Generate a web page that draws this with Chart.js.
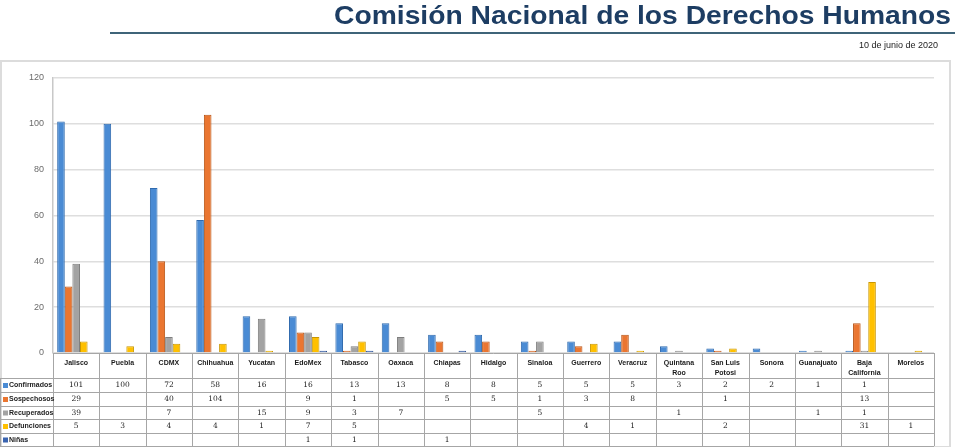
<!DOCTYPE html>
<html>
<head>
<meta charset="utf-8">
<script src="https://cdn.jsdelivr.net/npm/chart.js@4.4.0/dist/chart.umd.min.js"></script>
<style>
  html, body { margin:0; padding:0; background:#fff; }
  body { width:955px; height:447px; position:relative; overflow:hidden; font-family:"Liberation Sans", Arial, sans-serif; }
  #title { position:absolute; right:4px; top:1px; font-size:25px; font-weight:bold; color:#1d3d63; white-space:nowrap; transform:scaleX(1.13); transform-origin:right top; }
  #rule { position:absolute; left:110px; top:32px; width:845px; height:2px; background:#3f6479; }
  #date { position:absolute; right:17px; top:40px; font-size:9px; color:#222; font-family:"Liberation Sans Narrow","Liberation Sans",Arial,sans-serif; white-space:nowrap; }
  #wrap { position:absolute; left:0; top:0; width:955px; height:447px; }
</style>
</head>
<body>
<div id="wrap"><canvas id="c" width="955" height="447"></canvas></div>
<div id="title">Comisión Nacional de los Derechos Humanos</div>
<div id="rule"></div>
<div id="date">10 de junio de 2020</div>
<script>
const categories = ["Jalisco","Puebla","CDMX","Chihuahua","Yucatan","EdoMex","Tabasco","Oaxaca","Chiapas","Hidalgo","Sinaloa","Guerrero","Veracruz","Quintana Roo","San Luis Potosi","Sonora","Guanajuato","Baja California","Morelos"];
const categoryLines = [["Jalisco"],["Puebla"],["CDMX"],["Chihuahua"],["Yucatan"],["EdoMex"],["Tabasco"],["Oaxaca"],["Chiapas"],["Hidalgo"],["Sinaloa"],["Guerrero"],["Veracruz"],["Quintana","Roo"],["San Luis","Potosi"],["Sonora"],["Guanajuato"],["Baja","California"],["Morelos"]];
const confirmados = [101,100,72,58,16,16,13,13,8,8,5,5,5,3,2,2,1,1,null];
const sospechosos = [29,null,40,104,null,9,1,null,5,5,1,3,8,null,1,null,null,13,null];
const recuperados = [39,null,7,null,15,9,3,7,null,null,5,null,null,1,null,null,1,1,null];
const defunciones = [5,3,4,4,1,7,5,null,null,null,null,4,1,null,2,null,null,31,1];
const ninas = [null,null,null,null,null,1,1,null,1,null,null,null,null,null,null,null,null,null,null];
const seriesNames = ["Confirmados","Sospechosos","Recuperados","Defunciones","Niñas"];
const yTicks = [0,20,40,60,80,100,120];

const fills = ["#4a8bd4","#ea7631","#a3a3a3","#ffc000","#3a64b0"];
const edges = ["#2f6aae","#b85517","#7e7e7e","#c99700","#274a88"];
const allSeries = [confirmados, sospechosos, recuperados, defunciones, ninas];

const tablePlugin = {
  id:'tablePlugin',
  beforeDraw(chart){
    const ctx = chart.ctx;
    ctx.save();
    ctx.strokeStyle = '#dcdcdc';
    ctx.lineWidth = 2;
    ctx.strokeRect(1, 61, 949, 386);
    ctx.restore();
  },
  afterDraw(chart){
    const ctx = chart.ctx;
    const xs = chart.scales.x;
    const n = categories.length;
    const colW = (xs.right - xs.left) / n;
    const left = xs.left, right = xs.right;
    const rows = [353, 378, 392, 406, 419, 433, 446];
    ctx.save();
    ctx.strokeStyle = '#a6a6a6';
    ctx.lineWidth = 1;
    ctx.beginPath();
    ctx.moveTo(left, rows[0]+0.5); ctx.lineTo(right, rows[0]+0.5);
    for (let r = 1; r < rows.length; r++) {
      ctx.moveTo(0, rows[r]+0.5); ctx.lineTo(right, rows[r]+0.5);
    }
    for (let i = 0; i <= n; i++) {
      const x = Math.round(left + i*colW) + 0.5;
      ctx.moveTo(x, rows[0]); ctx.lineTo(x, rows[rows.length-1]);
    }
    ctx.moveTo(0.5, rows[1]); ctx.lineTo(0.5, rows[rows.length-1]);
    ctx.stroke();

    ctx.fillStyle = '#1a1a1a';
    ctx.textAlign = 'center';
    ctx.textBaseline = 'middle';
    ctx.font = 'bold 7px "Liberation Sans", Arial, sans-serif';
    for (let i = 0; i < n; i++) {
      const cx = xs.getPixelForValue(i);
      categoryLines[i].forEach((t, k) => ctx.fillText(t, cx, 363 + k*10));
    }
    ctx.font = '7.5px "DejaVu Serif", serif';
    ctx.fillStyle = '#222';
    for (let s = 0; s < allSeries.length; s++) {
      const cy = (rows[s+1] + rows[s+2]) / 2 + 0.5;
      for (let i = 0; i < n; i++) {
        const v = allSeries[s][i];
        if (v !== null && v !== undefined) ctx.fillText(String(v), xs.getPixelForValue(i), cy);
      }
      ctx.fillStyle = fills[s];
      ctx.fillRect(3, cy-2.5, 5, 5);
      ctx.fillStyle = '#222';
      ctx.textAlign = 'left';
      ctx.font = 'bold 7px "Liberation Sans", Arial, sans-serif';
      ctx.fillText(seriesNames[s], 9, cy);
      ctx.textAlign = 'center';
      ctx.font = '7.5px "DejaVu Serif", serif';
    }
    ctx.restore();
  }
};

new Chart(document.getElementById('c'), {
  type:'bar',
  data:{
    labels: categories,
    datasets: seriesNames.map((name, i) => ({
      label: name,
      data: allSeries[i],
      backgroundColor: fills[i],
      borderColor: edges[i],
      borderWidth: 1,
      categoryPercentage: 0.82,
      barPercentage: 1.0
    }))
  },
  options:{
    responsive:false,
    animation:false,
    devicePixelRatio:1,
    layout:{ padding:{ top:78, right:21, bottom:94, left:0 } },
    plugins:{ legend:{ display:false }, tooltip:{ enabled:false } },
    scales:{
      x:{ display:false },
      y:{
        min:0, max:120,
        afterFit(s){ s.width = 53; },
        afterBuildTicks(s){ s.ticks = yTicks.map(v => ({ value:v })); },
        ticks:{ color:'#6b6b6b', padding:9, font:{ size:9, family:'"Liberation Sans", Arial, sans-serif' } },
        grid:{ color:'#dedede', lineWidth:1.5, drawTicks:false },
        border:{ display:true, color:'#c8c8c8', width:1.5 }
      }
    }
  },
  plugins:[tablePlugin]
});
</script>
</body>
</html>
